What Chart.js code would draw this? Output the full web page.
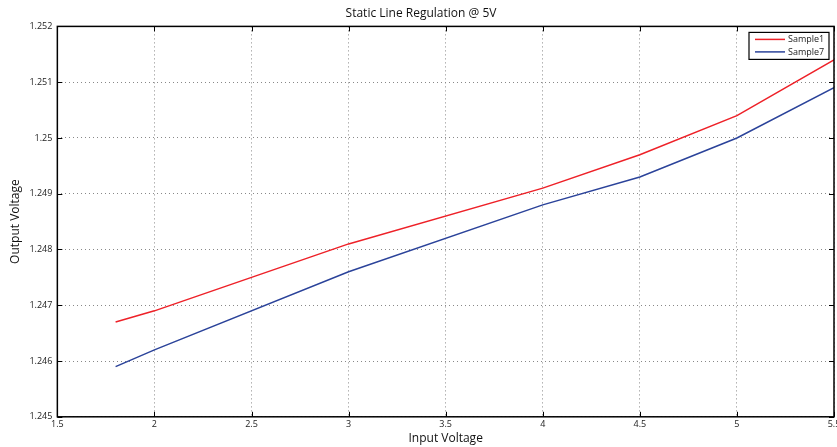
<!DOCTYPE html>
<html>
<head>
<meta charset="utf-8">
<script src="https://cdn.jsdelivr.net/npm/chart.js@4/dist/chart.umd.min.js"></script>
<style>
  html, body { margin: 0; padding: 0; background: #fff; }
  #wrap { width: 837px; height: 447px; }
</style>
</head>
<body>
<div id="wrap"><canvas id="c" width="837" height="447"></canvas></div>
<script>
// Input voltage sweep (V)
const inputVoltage = [1.8, 2, 3, 4, 4.5, 5, 5.5];
// Measured output voltage per sample (V)
const sample1 = [1.2467, 1.2469, 1.2481, 1.2491, 1.2497, 1.2504, 1.2514];
const sample7 = [1.2459, 1.2462, 1.2476, 1.2488, 1.2493, 1.2500, 1.2509];
const seriesNames = ['Sample1', 'Sample7'];
const titleText = 'Static Line Regulation @ 5V';
const xTitle = 'Input Voltage';
const yTitle = 'Output Voltage';

const FONT = '"Open Sans", "Liberation Sans", sans-serif';

function toPoints(xs, ys) { return xs.map((x, i) => ({ x: x, y: ys[i] })); }
function trimNum(v, d) { return String(parseFloat(Number(v).toFixed(d))); }

// Frame around the plot, inward tick marks on all four sides, boxed legend
const framePlugin = {
  id: 'frame',
  afterDraw(chart) {
    const { ctx, chartArea: a, scales } = chart;
    ctx.save();
    ctx.strokeStyle = '#000';
    ctx.lineWidth = 1;
    const L = 5;
    ctx.beginPath();
    scales.x.ticks.forEach(t => {
      const px = Math.round(scales.x.getPixelForValue(t.value)) + 0.5;
      ctx.moveTo(px, a.bottom); ctx.lineTo(px, a.bottom - L);
      ctx.moveTo(px, a.top); ctx.lineTo(px, a.top + L);
    });
    scales.y.ticks.forEach(t => {
      const py = Math.round(scales.y.getPixelForValue(t.value)) + 0.5;
      ctx.moveTo(a.left, py); ctx.lineTo(a.left + L, py);
      ctx.moveTo(a.right, py); ctx.lineTo(a.right - L, py);
    });
    ctx.stroke();
    ctx.lineWidth = 1.5;
    ctx.strokeRect(a.left, a.top, a.right - a.left, a.bottom - a.top);

    // legend box in the upper right corner
    const bw = 80, bh = 27;
    const bx = a.right - 5 - bw, by = a.top + 6;
    ctx.fillStyle = '#fff';
    ctx.fillRect(bx, by, bw, bh);
    ctx.lineWidth = 1.2;
    ctx.strokeRect(bx, by, bw, bh);
    ctx.font = '9px ' + FONT;
    ctx.textBaseline = 'middle';
    chart.data.datasets.forEach((ds, i) => {
      const ly = by + 7 + i * 12.5;
      ctx.strokeStyle = ds.borderColor;
      ctx.lineWidth = 1.5;
      ctx.beginPath();
      ctx.moveTo(bx + 6, ly); ctx.lineTo(bx + 36, ly);
      ctx.stroke();
      ctx.fillStyle = '#222';
      ctx.fillText(ds.label, bx + 39, ly + 0.5);
    });
    ctx.restore();
  }
};

new Chart(document.getElementById('c'), {
  type: 'line',
  data: {
    datasets: [
      { label: seriesNames[0], data: toPoints(inputVoltage, sample1), borderColor: '#ee2128', borderWidth: 1.5, pointRadius: 0, tension: 0, fill: false },
      { label: seriesNames[1], data: toPoints(inputVoltage, sample7), borderColor: '#2b439a', borderWidth: 1.5, pointRadius: 0, tension: 0, fill: false }
    ]
  },
  options: {
    responsive: false,
    animation: false,
    devicePixelRatio: 1,
    layout: { padding: { top: 6, right: 3, left: 8, bottom: 1 } },
    plugins: {
      legend: { display: false },
      tooltip: { enabled: false },
      title: {
        display: true, text: titleText, color: '#111',
        font: { family: FONT, size: 12, weight: 'normal' },
        padding: { top: 0, bottom: 6 }
      }
    },
    scales: {
      x: {
        type: 'linear', min: 1.5, max: 5.5,
        afterFit(s) { s.paddingLeft = 0; s.paddingRight = 0; },
        ticks: {
          stepSize: 0.5, color: '#222', padding: 2, maxRotation: 0,
          font: { family: FONT, size: 9 },
          callback: v => trimNum(v, 2)
        },
        grid: { color: '#888', drawTicks: false, lineWidth: 1 },
        border: { display: false, dash: [1, 3] },
        title: { display: true, text: xTitle, color: '#111', font: { family: FONT, size: 12 }, padding: { top: 0, bottom: 0 } }
      },
      y: {
        type: 'linear', min: 1.245, max: 1.252,
        afterFit(s) { s.paddingTop = 0; s.paddingBottom = 0; },
        ticks: {
          stepSize: 0.001, color: '#222', padding: 5,
          font: { family: FONT, size: 9 },
          callback: v => trimNum(v, 4)
        },
        grid: { color: '#888', drawTicks: false, lineWidth: 1 },
        border: { display: false, dash: [1, 3] },
        title: { display: true, text: yTitle, color: '#111', font: { family: FONT, size: 12 }, padding: { top: 0, bottom: 2 } }
      }
    }
  },
  plugins: [framePlugin]
});
</script>
</body>
</html>
